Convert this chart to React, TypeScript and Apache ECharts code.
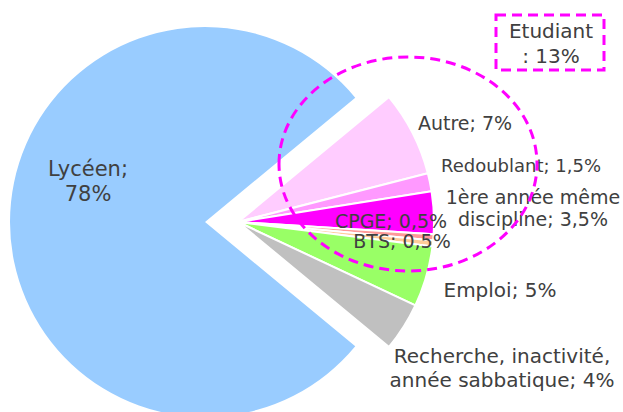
import React, { useEffect, useRef } from "react";
import * as echarts from "echarts";

const categories = [
  "Autre",
  "Redoublant",
  "1ère année même\ndiscipline",
  "CPGE",
  "BTS",
  "Emploi",
  "Recherche, inactivité,\nannée sabbatique",
  "Lycéen",
];
const values = [7, 1.5, 3.5, 0.5, 0.5, 5, 4, 78];
const colors = ["#ffccff", "#ff99ff", "#ff00ff", "#ff9999", "#ffcc99", "#99ff66", "#c0c0c0", "#99ccff"];
const studentLabel = "Etudiant";
const studentValue = 13;

// label placement & size (style only)
const labelPos: Record<number, [number, number]> = {
  0: [465, 123],
  1: [521, 165],
  2: [533, 208],
  3: [391, 221],
  4: [402, 241],
  5: [500, 290],
  6: [502, 368],
  7: [88, 181],
};
const labelSize = [19, 18, 19, 19, 19, 20, 20, 21];
const labelLH = [24, 24, 22, 24, 24, 24, 24, 25];

const fmt = (v: number) => String(v).replace(".", ",") + "%";
const labelText = (i: number) =>
  categories[i] === "Lycéen" ? `${categories[i]};\n${fmt(values[i])}` : `${categories[i]}; ${fmt(values[i])}`;

export default function App() {
  const ref = useRef<HTMLDivElement>(null);
  useEffect(() => {
    if (!ref.current) return;
    const chart = echarts.init(ref.current, null, { renderer: "svg" });
    const main = categories.length - 1;
    const mkData = (big: boolean) =>
      categories.map((c, i) => {
        const visible = big ? i === main : i !== main;
        return {
          name: c,
          value: values[i],
          itemStyle: {
            color: visible ? colors[i] : "transparent",
            borderColor: visible && !big ? "#ffffff" : "transparent",
            borderWidth: visible && !big ? 2 : 0,
          },
          label: {
            show: visible,
            formatter: labelText(i),
            color: "#404040",
            fontSize: labelSize[i],
            fontFamily: "DejaVu Sans",
            lineHeight: labelLH[i],
            align: "center",
            overflow: "none",
          },
          labelLine: { show: false },
        };
      });
    const layout = (p: any) => {
      const pos = labelPos[p.dataIndex];
      return { x: pos[0], y: pos[1], align: "center", verticalAlign: "middle", width: 300 };
    };
    chart.setOption({
      animation: false,
      series: [
        {
          type: "pie",
          center: [205, 222],
          radius: [0, 195],
          startAngle: 39.6,
          clockwise: true,
          silent: true,
          data: mkData(true),
          label: { position: "outside", overflow: "none" },
          labelLayout: layout,
        },
        {
          type: "pie",
          center: [238, 222],
          radius: [0, 196],
          startAngle: 39.6,
          clockwise: true,
          silent: true,
          data: mkData(false),
          label: { position: "outside", overflow: "none" },
          labelLayout: layout,
        },
      ],
      graphic: [
        {
          type: "ellipse",
          shape: { cx: 408, cy: 164, rx: 129, ry: 107 },
          style: { fill: "none", stroke: "#ff00ff", lineWidth: 3, lineDash: [10, 6] },
          z: 10,
        },
        {
          type: "rect",
          shape: { x: 496, y: 15, width: 108, height: 55 },
          style: { fill: "#ffffff", stroke: "#ff00ff", lineWidth: 3, lineDash: [10, 6] },
          z: 10,
        },
        {
          type: "text",
          x: 551,
          y: 43,
          style: {
            text: `${studentLabel}\n: ${studentValue}%`,
            fill: "#404040",
            font: "20px 'DejaVu Sans'",
            lineHeight: 25,
            align: "center",
            verticalAlign: "middle",
          },
          z: 11,
        },
      ],
    });
    return () => chart.dispose();
  }, []);
  return (
    <div
      ref={ref}
      style={{ position: "fixed", left: 0, top: 0, width: 623, height: 412, background: "#ffffff" }}
    />
  );
}
